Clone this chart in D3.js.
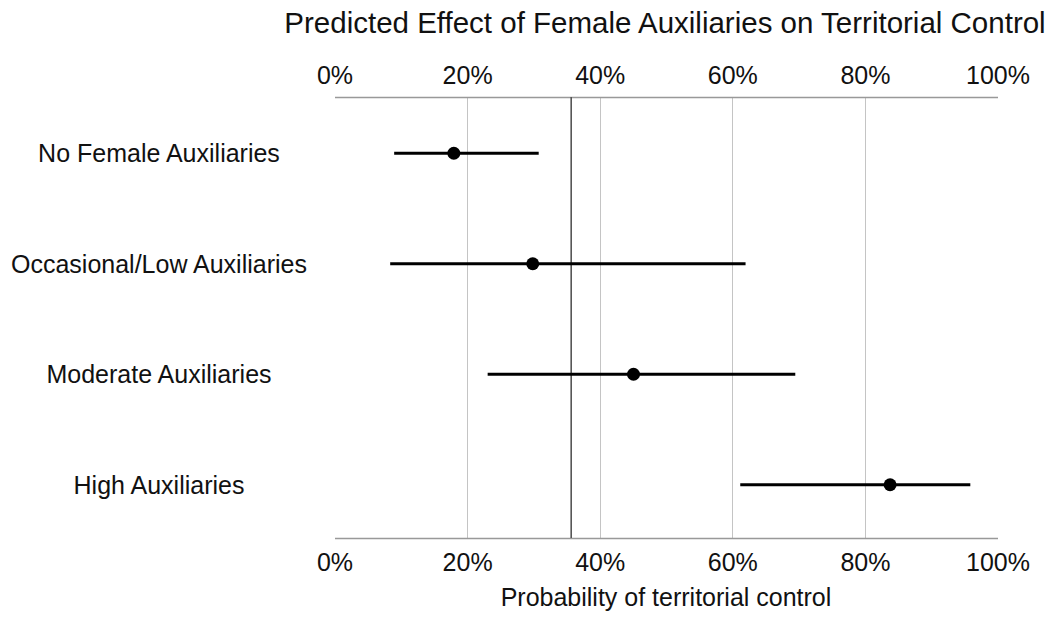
<!DOCTYPE html>
<html><head><meta charset="utf-8">
<script src="https://cdn.jsdelivr.net/npm/d3@7"></script>
<style>body{margin:0;background:#fff}text{font-family:"Liberation Sans",Arial,sans-serif;fill:#111}</style>
</head><body><svg id="c" width="1055" height="619"></svg>
<script>
const categories = ["No Female Auxiliaries","Occasional/Low Auxiliaries","Moderate Auxiliaries","High Auxiliaries"];
const estimates = [0.180, 0.299, 0.451, 0.838];
const lower = [0.090, 0.084, 0.231, 0.612];
const upper = [0.308, 0.620, 0.695, 0.959];
const tickValues = [0, 0.2, 0.4, 0.6, 0.8, 1.0];
const reference = 0.357;
const title = "Predicted Effect of Female Auxiliaries on Territorial Control";
const xTitle = "Probability of territorial control";

const svg = d3.select("#c");
const x = d3.scaleLinear().domain([0,1]).range([334.5, 997.5]);
const y = d3.scaleBand().domain(categories).range([98, 540]);
const yTop = 97, yBottom = 538;
const fmt = d3.format(".0%");

// gridlines
svg.append("g").selectAll("line").data(tickValues.filter(v=>v>0&&v<1)).join("line")
  .attr("x1",d=>Math.round(x(d))+0.5).attr("x2",d=>Math.round(x(d))+0.5)
  .attr("y1",yTop).attr("y2",yBottom).attr("stroke","#c4c4c4").attr("stroke-width",1);

// axes
const axTop = d3.axisTop(x).tickValues(tickValues).tickFormat(fmt).tickSize(0).tickPadding(13);
const axBot = d3.axisBottom(x).tickValues(tickValues).tickFormat(fmt).tickSize(0).tickPadding(15);
const gt = svg.append("g").attr("transform",`translate(0,${yTop})`).call(axTop);
const gb = svg.append("g").attr("transform",`translate(0,${yBottom})`).call(axBot);
[gt,gb].forEach(g=>{
  g.select(".domain").attr("stroke","#999").attr("stroke-width",1.5);
  g.selectAll("text").style("font-family","'Liberation Sans',Arial,sans-serif").style("font-size","25px").attr("fill","#111");
});

// reference line
svg.append("line").attr("x1",x(reference)).attr("x2",x(reference)).attr("y1",yTop).attr("y2",yBottom)
  .attr("stroke","#555").attr("stroke-width",1.6);

const cy = d=>y(d)+y.bandwidth()/2;
const rows = svg.append("g").selectAll("g").data(categories).join("g");
rows.append("line").attr("x1",(d,i)=>x(lower[i])).attr("x2",(d,i)=>x(upper[i]))
  .attr("y1",cy).attr("y2",cy).attr("stroke","#000").attr("stroke-width",3.2);
rows.append("circle").attr("cx",(d,i)=>x(estimates[i])).attr("cy",cy).attr("r",6.5).attr("fill","#000");
rows.append("text").attr("x",159).attr("y",cy).attr("dy","0.35em").attr("text-anchor","middle")
  .style("font-size","25px").text(d=>d);

svg.append("text").attr("x",665).attr("y",33).attr("text-anchor","middle").style("font-size","29.5px").text(title);
svg.append("text").attr("x",666).attr("y",606).attr("text-anchor","middle").style("font-size","25px").text(xTitle);
</script></body></html>
